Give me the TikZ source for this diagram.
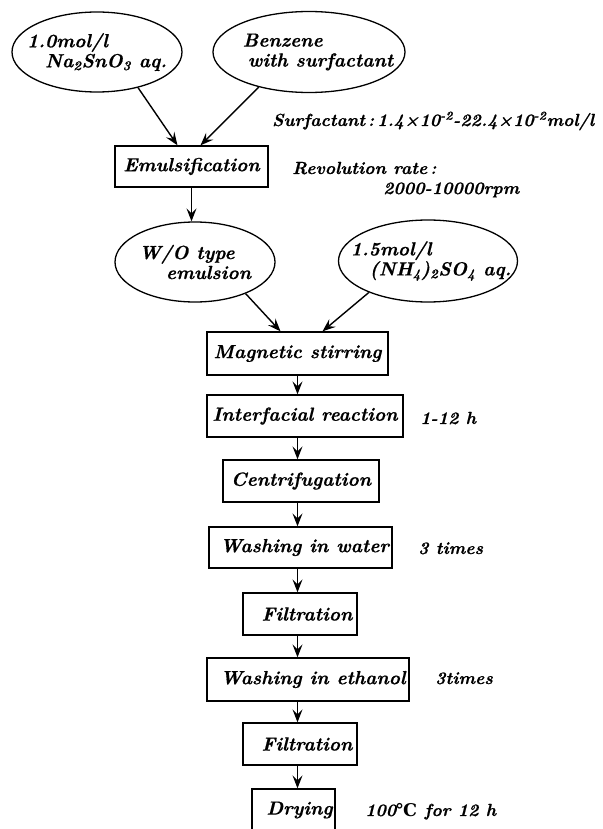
\documentclass[tikz,border=0pt]{standalone}
\usepackage{fontspec}
\newfontfamily\lbf{lmroman10-bolditalic.otf}[FakeBold=0.6]
\newfontfamily\symf{DejaVu Serif}
\usetikzlibrary{arrows.meta,shapes.geometric,calc}
\begin{document}
\begin{tikzpicture}[x=1pt,y=-1pt,
  every node/.style={font={\lbf\fontsize{19}{20}\selectfont}},
  stepbox/.style={draw,line width=1.3pt,rectangle,inner sep=0pt,minimum height=42pt},
  oval/.style={draw,line width=1.3pt,ellipse,inner sep=0pt},
  otext/.style={align=left,inner sep=0pt},
  note/.style={anchor=base west,inner sep=0pt,font={\lbf\fontsize{17.5}{20}\selectfont}},
  arr/.style={line width=1.4pt,-{Stealth[length=13pt,width=10pt,inset=5pt]}}]
\useasboundingbox (0,0) rectangle (602,829);
% ellipses
\node[oval,minimum width=170pt,minimum height=80pt] (e1) at (97,52) {};
\node[otext] at (97,52) {1.0mol/l\\\hspace*{18pt}Na\textsubscript{2}SnO\textsubscript{3} aq.};
\node[oval,minimum width=192pt,minimum height=81pt] (e2) at (309,52) {};
\node[otext] at (318,52) {Benzene\\\hspace*{5pt}with surfactant};
\node[oval,minimum width=160pt,minimum height=80pt] (e3) at (195,262) {};
\node[otext] at (195,262) {W/O type\\\hspace*{27pt}emulsion};
\node[oval,minimum width=179pt,minimum height=82pt] (e4) at (428,261) {};
\node[otext] at (431,261) {1.5mol/l\\\hspace*{19pt}(NH\textsubscript{4})\textsubscript{2}SO\textsubscript{4} aq.};
% boxes
\node[stepbox,minimum width=153pt,minimum height=41pt] (emul) at (191.5,166.5) {Emulsification};
\node[stepbox,minimum width=181pt,minimum height=43pt] (mag) at (297.5,353.5) {Magnetic stirring};
\node[stepbox,minimum width=196pt] (inter) at (305,416) {Interfacial reaction};
\node[stepbox,minimum width=156pt] (cent) at (301,481) {Centrifugation};
\node[stepbox,minimum width=183pt,minimum height=41pt] (water) at (300.5,547.5) {\hspace*{8pt}Washing in water};
\node[stepbox,minimum width=114pt] (filt1) at (300,614) {\hspace*{14pt}Filtration};
\node[stepbox,minimum width=202pt,minimum height=43pt] (eth) at (308,679.5) {\hspace*{10pt}Washing in ethanol};
\node[stepbox,minimum width=114pt] (filt2) at (300,744) {\hspace*{14pt}Filtration};
\node[stepbox,minimum width=83pt] (dry) at (293.5,810) {\hspace*{12pt}Drying};
% notes
\node[note] (n1) at (272,126) {Surfactant\,:\,1.4×10\textsuperscript{-2}-22.4×10\textsuperscript{-2}mol/l};
\node[note] (n2) at (292,174) {Revolution rate\,:};
\node[note] (n3) at (383,194) {2000-10000rpm};
\node[note] (n4) at (420,424) {1-12 h};
\node[note] (n5) at (418,554) {3 times};
\node[note] (n6) at (435,684) {3times};
\node[note] (n7) at (365,816) {100{\symf\bfseries ℃} for 12 h};
% arrows
\draw[arr] (e1.-41) -- ($(emul.north)+(-14,0)$);
\draw[arr] (e2.215) -- ($(emul.north)+(9,0)$);
\draw[arr] (emul.south) -- (emul.south |- e3.north);
\draw[arr] (e3.-32) -- ($(mag.north)+(-17,0)$);
\draw[arr] (e4.208) -- ($(mag.north)+(25,0)$);
\draw[arr] (mag.south) -- (mag.south |- inter.north);
\draw[arr] (inter.south -| mag.south) -- (cent.north -| mag.south);
\draw[arr] (cent.south -| mag.south) -- (water.north -| mag.south);
\draw[arr] (water.south -| mag.south) -- (filt1.north -| mag.south);
\draw[arr] (filt1.south -| mag.south) -- (eth.north -| mag.south);
\draw[arr] (eth.south -| mag.south) -- (filt2.north -| mag.south);
\draw[arr] (filt2.south -| mag.south) -- (dry.north -| mag.south);
\end{tikzpicture}
\end{document}
